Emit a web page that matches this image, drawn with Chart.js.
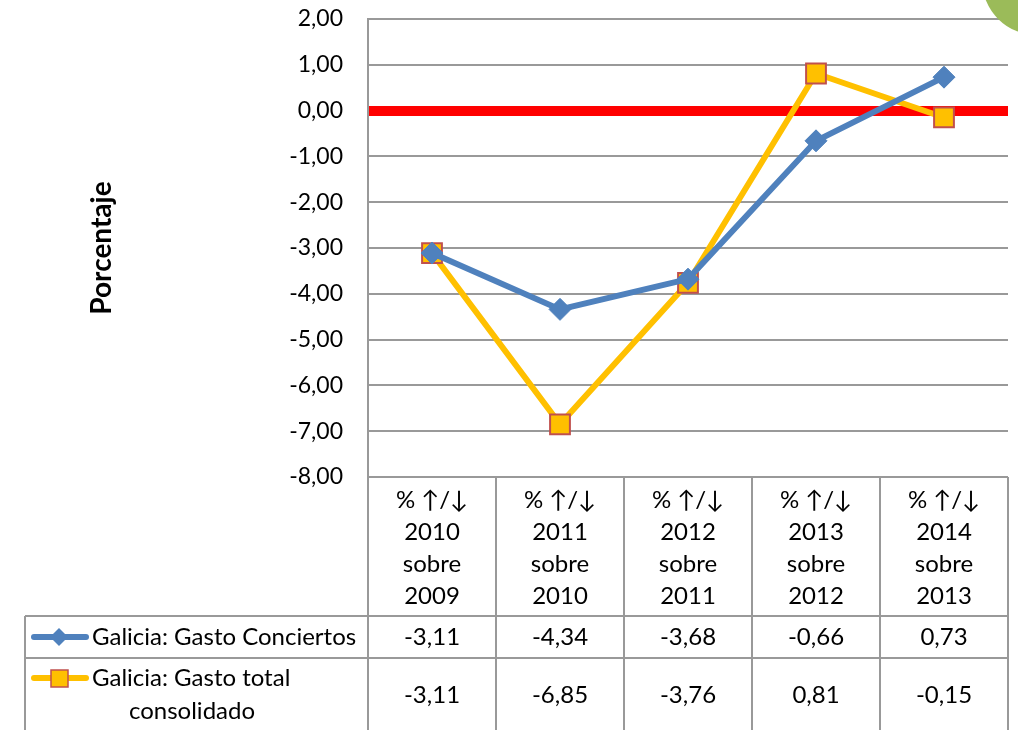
<!DOCTYPE html>
<html>
<head>
<meta charset="utf-8">
<script src="https://cdn.jsdelivr.net/npm/chart.js@4"></script>
<style>
  html, body { margin: 0; padding: 0; background: #fff; }
  #wrap { width: 1018px; height: 730px; position: relative; }
</style>
</head>
<body>
<div id="wrap"><canvas id="gastoChart" width="1018" height="730"></canvas></div>
<script>
// categories (table header, one line per entry)
var categories = [
    ['% \u2191/\u2193', '2010', 'sobre', '2009'],
    ['% \u2191/\u2193', '2011', 'sobre', '2010'],
    ['% \u2191/\u2193', '2012', 'sobre', '2011'],
    ['% \u2191/\u2193', '2013', 'sobre', '2012'],
    ['% \u2191/\u2193', '2014', 'sobre', '2013']
];
var conciertos = [-3.11, -4.34, -3.68, -0.66, 0.73];
var gastoTotal = [-3.11, -6.85, -3.76, 0.81, -0.15];
var seriesNames = ['Galicia: Gasto Conciertos', 'Galicia: Gasto total consolidado'];
var yMin = -8, yMax = 2, yStep = 1;

var FONT = 'Lato, "Open Sans", sans-serif';
var GRID = '#999999';

function fmt(v) {
    return v.toFixed(2).replace('.', ',');
}

// draws the data table under the plot, the way Excel does it
var dataTable = {
    id: 'dataTable',
    afterDraw: function (chart) {
        var ctx = chart.ctx;
        var area = chart.chartArea;
        var xs = chart.scales.x;
        var n = categories.length;
        var colW = (area.right - area.left) / n;
        var bottom = chart.height;
        var rowTop = 616, rowMid = 658, legLeft = 25;

        ctx.save();
        ctx.strokeStyle = GRID;
        ctx.lineWidth = 2;
        ctx.beginPath();
        for (var i = 0; i <= n; i++) {
            var bx = Math.round(area.left + i * colW);
            ctx.moveTo(bx, area.bottom);
            ctx.lineTo(bx, bottom);
        }
        ctx.moveTo(legLeft, rowTop); ctx.lineTo(area.right, rowTop);
        ctx.moveTo(legLeft, rowMid); ctx.lineTo(area.right, rowMid);
        ctx.moveTo(legLeft, rowTop); ctx.lineTo(legLeft, bottom);
        ctx.stroke();

        ctx.fillStyle = '#000';
        ctx.font = '24px ' + FONT;
        ctx.textAlign = 'center';
        ctx.textBaseline = 'middle';
        var headerY = [500, 532, 564, 596];
        for (var c = 0; c < n; c++) {
            var cx = xs.getPixelForValue(c);
            categories[c].forEach(function (line, k) {
                ctx.fillText(line, cx, headerY[k]);
            });
            ctx.fillText(fmt(conciertos[c]), cx, 637);
            ctx.fillText(fmt(gastoTotal[c]), cx, 695);
        }

        // legend keys
        var ds = chart.data.datasets;
        ctx.lineCap = 'round';
        // series 1
        ctx.strokeStyle = ds[0].borderColor;
        ctx.lineWidth = ds[0].borderWidth;
        ctx.beginPath(); ctx.moveTo(34, 637); ctx.lineTo(86, 637); ctx.stroke();
        ctx.fillStyle = ds[0].pointBackgroundColor;
        ctx.beginPath();
        ctx.moveTo(59, 628); ctx.lineTo(68, 637); ctx.lineTo(59, 646); ctx.lineTo(50, 637);
        ctx.closePath(); ctx.fill();
        // series 2
        ctx.strokeStyle = ds[1].borderColor;
        ctx.lineWidth = ds[1].borderWidth;
        ctx.beginPath(); ctx.moveTo(34, 678); ctx.lineTo(86, 678); ctx.stroke();
        ctx.fillStyle = ds[1].pointBackgroundColor;
        ctx.fillRect(51, 670, 17, 17);
        ctx.strokeStyle = ds[1].pointBorderColor;
        ctx.lineWidth = 1.5;
        ctx.strokeRect(51, 670, 17, 17);

        ctx.fillStyle = '#000';
        ctx.textAlign = 'left';
        ctx.fillText(seriesNames[0], 92, 637);
        ctx.fillText('Galicia: Gasto total', 92, 678);
        ctx.textAlign = 'center';
        ctx.fillText('consolidado', 192, 711);

        // decorative green circle in the corner
        ctx.fillStyle = '#9BBB59';
        ctx.beginPath();
        ctx.arc(1037, -20, 55, 0, Math.PI * 2);
        ctx.fill();
        ctx.restore();
    }
};

var ctx = document.getElementById('gastoChart').getContext('2d');
new Chart(ctx, {
    type: 'line',
    data: {
        labels: categories,
        datasets: [
            {
                label: seriesNames[0],
                data: conciertos,
                borderColor: '#4F81BD',
                backgroundColor: '#4F81BD',
                pointBackgroundColor: '#4F81BD',
                pointBorderColor: '#4F81BD',
                borderWidth: 6,
                pointStyle: 'rectRot',
                pointRadius: 11,
                pointBorderWidth: 1,
                tension: 0
            },
            {
                label: seriesNames[1],
                data: gastoTotal,
                borderColor: '#FFC000',
                backgroundColor: '#FFC000',
                pointBackgroundColor: '#FFC000',
                pointBorderColor: '#C0504D',
                borderWidth: 6,
                pointStyle: 'rect',
                pointRadius: 14,
                pointBorderWidth: 2,
                tension: 0
            }
        ]
    },
    options: {
        responsive: false,
        animation: false,
        layout: { autoPadding: false, padding: { left: 85, right: 10, top: 19, bottom: 253 } },
        plugins: { legend: { display: false }, tooltip: { enabled: false } },
        scales: {
            x: {
                type: 'category',
                display: false,
                offset: true
            },
            y: {
                min: yMin,
                max: yMax,
                afterFit: function (scale) {
                    scale.width = 283;
                    scale.paddingTop = 0;
                    scale.paddingBottom = 0;
                },
                border: { display: true, color: GRID, width: 2 },
                grid: {
                    drawTicks: false,
                    color: function (c) { return c.tick && c.tick.value === 0 ? '#FF0000' : GRID; },
                    lineWidth: function (c) { return c.tick && c.tick.value === 0 ? 10 : 2; }
                },
                ticks: {
                    stepSize: yStep,
                    padding: 25,
                    color: '#000',
                    font: { family: FONT, size: 23 },
                    callback: function (v) { return fmt(v); }
                },
                title: {
                    display: true,
                    text: 'Porcentaje',
                    color: '#000',
                    padding: 0,
                    font: { family: FONT, size: 28, weight: 'bold' }
                }
            }
        }
    },
    plugins: [dataTable]
});
</script>
</body>
</html>
